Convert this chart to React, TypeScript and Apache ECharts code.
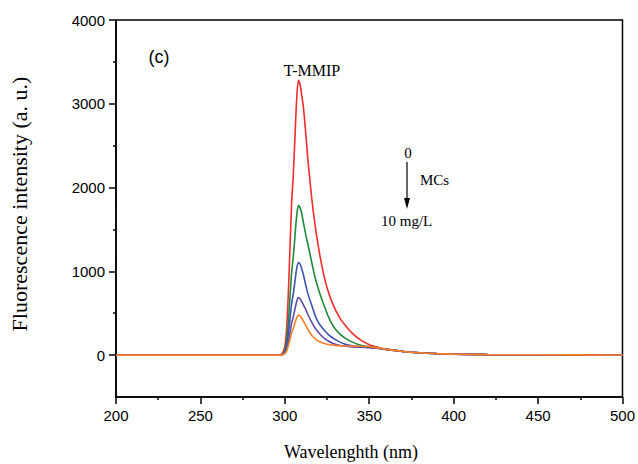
import React, { useEffect, useRef } from "react";
import * as echarts from "echarts";

const wavelengths = [200, 250, 296, 298, 299, 300, 301, 302, 303, 304, 305, 306, 307, 308, 309, 310, 311, 312, 313, 314, 316, 318, 320, 322, 324, 326, 328, 330, 333, 336, 340, 345, 350, 355, 360, 370, 380, 390, 400, 420, 450, 500];

const redVals = [0, 0, 0, 10, 40, 100, 300, 700, 1250, 1800, 2150, 2600, 3050, 3280, 3230, 3100, 2960, 2740, 2500, 2260, 1860, 1540, 1280, 1060, 880, 740, 630, 540, 430, 350, 260, 178, 125, 95, 72, 44, 28, 18, 12, 6, 4, 2];
const greenVals = [0, 0, 0, 5, 22, 60, 165, 380, 680, 980, 1170, 1420, 1660, 1784, 1760, 1690, 1580, 1480, 1380, 1290, 1100, 920, 780, 660, 550, 450, 370, 310, 245, 200, 155, 118, 98, 82, 68, 44, 28, 18, 12, 6, 4, 2];
const blueVals = [0, 0, 0, 3, 14, 38, 105, 240, 420, 610, 730, 880, 1030, 1106, 1090, 1030, 960, 870, 785, 710, 590, 470, 385, 330, 282, 242, 210, 185, 152, 128, 112, 100, 92, 82, 68, 44, 28, 18, 12, 6, 4, 2];
const purpleVals = [0, 0, 0, 2, 9, 24, 65, 150, 260, 380, 455, 550, 640, 687, 672, 638, 600, 560, 515, 470, 390, 320, 270, 225, 190, 165, 145, 130, 115, 105, 98, 94, 88, 82, 68, 44, 28, 18, 12, 6, 4, 2];
const orangeVals = [0, 0, 0, 1, 6, 17, 45, 105, 180, 260, 315, 385, 445, 479, 468, 440, 405, 370, 330, 295, 235, 195, 165, 148, 135, 126, 120, 116, 112, 109, 107, 105, 100, 86, 68, 44, 28, 18, 12, 6, 4, 2];

const seriesColors = ["#f22b2b", "#1e8a3a", "#3c55b5", "#5b4aa6", "#ff7f24"];
const seriesValues = [redVals, greenVals, blueVals, purpleVals, orangeVals];

const yMajorTicks = [0, 1000, 2000, 3000, 4000];
const yMinorTicks = [500, 1500, 2500, 3500];

const SANS = "'Liberation Sans', Arial, sans-serif";
const SERIF = "'Liberation Serif', 'Times New Roman', serif";

export default function App() {
  const ref = useRef<HTMLDivElement>(null);
  useEffect(() => {
    if (!ref.current) return;
    const chart = echarts.init(ref.current, null, { renderer: "svg" });
    const axisLine = { show: true, onZero: false, lineStyle: { color: "#000", width: 1.5 } };
    const labelFont = { color: "#000", fontFamily: SANS, fontSize: 15 };
    const txt = (text: string, x: number, y: number, size: number, family: string, align = "center", extra: any = {}) => ({
      type: "text",
      x,
      y,
      ...extra,
      style: { text, align, verticalAlign: "middle", fontSize: size, fontFamily: family, fontWeight: "normal", fill: "#000" },
    });
    chart.setOption({
      animation: false,
      backgroundColor: "#fff",
      grid: { left: 116, top: 20, right: 12, bottom: 67, show: true, borderColor: "#000", borderWidth: 1.5, backgroundColor: "transparent" },
      xAxis: {
        type: "value",
        min: 200,
        max: 500,
        interval: 50,
        axisLine,
        axisTick: { show: true, inside: false, length: 7, lineStyle: { color: "#000", width: 1.5 } },
        minorTick: { show: true, splitNumber: 2, length: 3, lineStyle: { color: "#000", width: 1.5 } },
        splitLine: { show: false },
        axisLabel: { ...labelFont, margin: 11, formatter: (v: number) => String(v) },
      },
      yAxis: [
        {
          type: "value",
          min: -500,
          max: 4000,
          position: "left",
          axisLine,
          axisTick: { show: true, length: 7, customValues: yMajorTicks, lineStyle: { color: "#000", width: 1.5 } },
          axisLabel: { ...labelFont, margin: 11, customValues: yMajorTicks, formatter: (v: number) => String(v) },
          splitLine: { show: false },
        },
        {
          type: "value",
          min: -500,
          max: 4000,
          position: "left",
          axisLine: { show: false, onZero: false },
          axisTick: { show: true, length: 3, customValues: yMinorTicks, lineStyle: { color: "#000", width: 1.5 } },
          axisLabel: { show: false },
          splitLine: { show: false },
        },
      ],
      series: seriesValues.map((vals, i) => ({
        type: "line",
        yAxisIndex: 0,
        data: wavelengths.map((w, j) => [w, vals[j]]),
        showSymbol: false,
        smooth: 0.25,
        lineStyle: { color: seriesColors[i], width: 1.6 },
        itemStyle: { color: seriesColors[i] },
        z: 2 + i,
      })),
      graphic: [
        txt("(c)", 159, 57, 18, SANS),
        txt("T-MMIP", 312, 70, 16, SERIF),
        txt("0", 408, 153, 15, SERIF),
        { type: "line", shape: { x1: 407, y1: 162, x2: 407, y2: 200 }, style: { stroke: "#000", lineWidth: 1.2 } },
        { type: "polygon", shape: { points: [[404, 198], [410, 198], [407, 209]] }, style: { fill: "#000" } },
        txt("MCs", 420, 180, 15, SERIF, "left"),
        txt("10 mg/L", 381, 221, 15, SERIF, "left"),
        txt("Wavelenghth (nm)", 351, 452, 18, SERIF),
        txt("Fluorescence intensity (a. u.)", 19, 204, 22, SERIF, "center", { rotation: Math.PI / 2 }),
      ],
    });
    return () => chart.dispose();
  }, []);
  return <div ref={ref} style={{ position: "fixed", left: 0, top: 0, width: 638, height: 464 }} />;
}
